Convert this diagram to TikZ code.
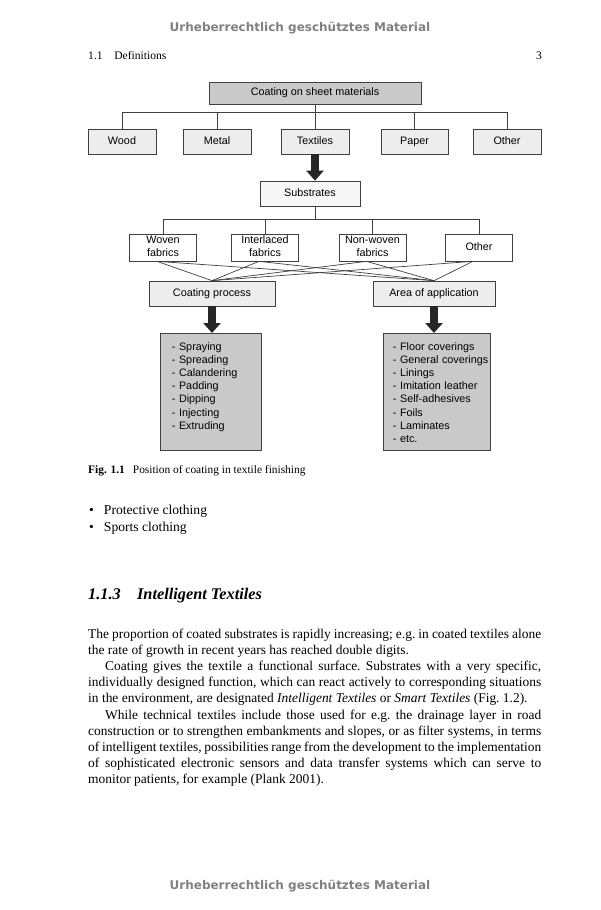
\documentclass[tikz,border=0pt]{standalone}
\usepackage{fontspec}
\setmainfont{Liberation Serif}
\newfontfamily\diagfont{Liberation Sans}
\newfontfamily\markfont{DejaVu Sans}
\usetikzlibrary{arrows.meta}
\definecolor{boxdark}{gray}{0.79}
\definecolor{boxlight}{gray}{0.93}
\definecolor{boxpale}{gray}{0.97}
\definecolor{linegray}{gray}{0.25}
\definecolor{markgray}{gray}{0.5}

\begin{document}
\begin{tikzpicture}[
    x=1pt, y=-1pt,
    box/.style={rectangle, draw=linegray, line width=0.7pt, fill=boxlight, inner sep=0pt, minimum height=25pt, align=center, text height=7.8pt, text depth=2.2pt, font=\diagfont\fontsize{10.8}{13}\selectfont},
    twoline/.style={box, fill=white, minimum width=67pt, minimum height=27pt, text height=20.8pt, text depth=2.2pt},
    darkbox/.style={box, fill=boxdark},
    listbox/.style={box, fill=boxdark, anchor=north west, align=left, text height=12pt, text depth=95pt, inner ysep=5pt, font=\diagfont\fontsize{10.8}{13.15}\selectfont},
    link/.style={draw=linegray, line width=0.7pt},
    bigarrow/.style={draw=black!85, line width=7.5pt, -{Triangle[width=17pt,length=10pt]}},
    pagetext/.style={anchor=base west, inner sep=0pt, font=\fontsize{13.6}{16.2}\selectfont},
    watermark/.style={anchor=base, inner sep=0pt, text=markgray, font=\markfont\bfseries\fontsize{12}{14}\selectfont}
]
\useasboundingbox (0,0) rectangle (600,910);

% Page
\node (wmtop) [watermark] at (300,31) {Urheberrechtlich geschütztes Material};
\node (runhead) [pagetext, font=\fontsize{11.6}{14}\selectfont] at (88,59) {1.1\quad Definitions};
\node (folio) [pagetext, anchor=base east, font=\fontsize{11.6}{14}\selectfont] at (542,59) {3};

% Nodes
\node (sheet) [darkbox, minimum width=212pt, minimum height=22pt] at (315,93) {Coating on sheet materials};
\node (wood) [box, minimum width=68pt] at (122,141.5) {Wood};
\node (metal) [box, minimum width=68pt] at (217,141.5) {Metal};
\node (textiles) [box, minimum width=68pt] at (315,141.5) {Textiles};
\node (paper) [box, minimum width=67pt] at (414.5,141.5) {Paper};
\node (othersheet) [box, minimum width=68pt] at (507,141.5) {Other};

\node (substrates) [box, fill=boxpale, minimum width=100pt] at (310,193.5) {Substrates};
\node (woven) [twoline] at (163,247.5) {Woven\\fabrics};
\node (interlaced) [twoline] at (265,247.5) {Interlaced\\fabrics};
\node (nonwoven) [twoline] at (372.5,247.5) {Non-woven\\fabrics};
\node (othersub) [box, fill=white, minimum width=67pt, minimum height=27pt] at (479,247.5) {Other};

\node (process) [box, minimum width=126pt] at (212,293.5) {Coating process};
\node (application) [box, minimum width=122pt] at (434,293.5) {Area of application};

\node (methods) [listbox, text width=78pt, inner xsep=11.5pt] at (160,333) {- Spraying\\- Spreading\\- Calandering\\- Padding\\- Dipping\\- Injecting\\- Extruding};
\node (uses) [listbox, text width=88pt, inner xsep=9.5pt] at (383,333) {- Floor coverings\\\mbox{- General coverings}\\- Linings\\- Imitation leather\\- Self-adhesives\\- Foils\\- Laminates\\- etc.};

% Connectors
\coordinate (bus1) at (315,112);
\coordinate (bus2) at (315,219);
\draw [link] (sheet.south) -- (textiles.north);
\foreach \n in {wood,metal,paper,othersheet}
    \draw [link] (\n.north) |- (bus1);
\draw [link] (bus2 |- substrates.south) -- (bus2);
\foreach \n in {woven,interlaced,nonwoven,othersub}
    \draw [link] (\n.north) |- (bus2);
\foreach \n in {woven,interlaced,nonwoven,othersub} {
    \draw [link] ([xshift=-6pt]\n.south) -- (process.north);
    \draw [link] ([xshift=-6pt]\n.south) -- (application.north);
}

% Arrows
\draw [bigarrow] (textiles.south) -- (textiles.south |- substrates.north);
\draw [bigarrow] (process.south) -- (process.south |- methods.north);
\draw [bigarrow] (application.south) -- (application.south |- uses.north);

% Text below the figure
\node (caption) [pagetext, font=\fontsize{11.4}{14}\selectfont] at (88,473) {\textbf{Fig. 1.1}\hspace{0.7em}Position of coating in textile finishing};
\node (bulletone) [pagetext] at (89,514) {\textbullet\hspace{10pt}Protective clothing};
\node (bullettwo) [pagetext] at (89,531) {\textbullet\hspace{10pt}Sports clothing};
\node (heading) [pagetext, font=\bfseries\itshape\fontsize{16.3}{19}\selectfont] at (88,599) {1.1.3\quad Intelligent Textiles};
\node (body) [pagetext, text width=453pt, align=justify, font=\fontsize{13.45}{16.2}\selectfont] at (88,638) {\frenchspacing\hyphenpenalty=10000\exhyphenpenalty=10000\tolerance=9999
\noindent The proportion of coated substrates is rapidly increasing; e.g. in coated textiles alone\linebreak the rate of growth in recent years has reached double digits.\par
\noindent\hspace*{17pt}Coating gives the textile a functional surface. Substrates with a very specific,\linebreak individually designed function, which can react actively to corresponding situations\linebreak in the environment, are designated \textit{Intelligent Textiles} or \textit{Smart Textiles} (Fig. 1.2).\par
\noindent\hspace*{17pt}While technical textiles include those used for e.g. the drainage layer in road\linebreak construction or to strengthen embankments and slopes, or as filter systems, in terms\linebreak of intelligent textiles, possibilities range from the development to the implementation\linebreak of sophisticated electronic sensors and data transfer systems which can serve to\linebreak monitor patients, for example (Plank 2001).};
\node (wmbottom) [watermark] at (300,889) {Urheberrechtlich geschütztes Material};
\end{tikzpicture}
\end{document}
